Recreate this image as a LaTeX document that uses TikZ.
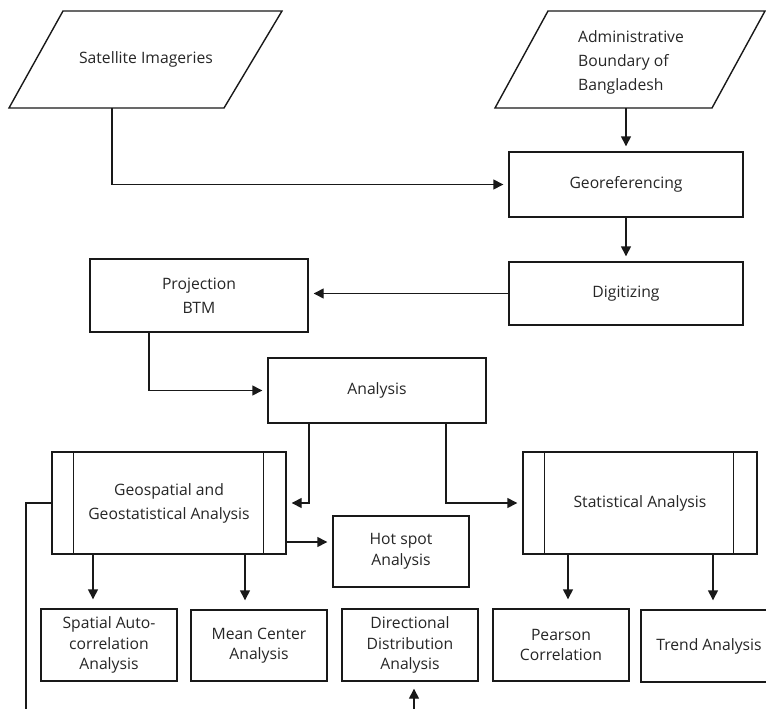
\documentclass[tikz,border=0pt]{standalone}
\usepackage{fontspec}
\setmainfont{Open Sans}
\usetikzlibrary{arrows.meta,calc}
\begin{document}
\begin{tikzpicture}[x=1pt,y=-1pt,
  ln/.style={draw=black!90,line width=1.4pt},
  blk/.style={ln,fill=white,inner sep=0pt,align=center,text=black!85,font=\fontsize{15.7}{24}\selectfont},
  sm/.style={font=\fontsize{15.7}{20.5}\selectfont},
  txt/.style={inner sep=0pt,align=center,text=black!85,font=\fontsize{15.7}{24}\selectfont},
  arr/.style={ln,-{Triangle[length=10pt,width=10pt]},shorten >=5pt},
  arrl/.style={arr,shorten >=9pt}]
\useasboundingbox (0,0) rectangle (766,709);
\clip (0,0) rectangle (766,709);
% input parallelograms
\draw[ln] (63,11) -- (282,11) -- (224,108) -- (9,108) -- cycle;
\node[txt] (sat) at (146,59) {Satellite Imageries};
\coordinate (satb) at (112,108);
\draw[ln] (548,11) -- (765,11) -- (712,108) -- (495,108) -- cycle;
\node[txt,align=left] (adm) at (631,62.5) {Administrative\\Boundary of\\Bangladesh};
\coordinate (admb) at (626,108);
% process boxes
\node[blk,minimum width=234pt,minimum height=65pt] (geo) at (626,184.5) {Georeferencing};
\node[blk,minimum width=234pt,minimum height=63pt] (dig) at (626,293.5) {Digitizing};
\node[blk,minimum width=218pt,minimum height=73pt] (proj) at (199,295.5) {Projection\\BTM};
\node[blk,minimum width=218pt,minimum height=65pt] (ana) at (377,390.5) {Analysis};
\node[blk,minimum width=234pt,minimum height=102pt] (gsp) at (169,503) {Geospatial and\\Geostatistical Analysis};
\node[blk,minimum width=234pt,minimum height=102pt] (stat) at (640,503) {Statistical Analysis};
\draw[ln] ($(gsp.north west)+(22,0)$) -- ($(gsp.south west)+(22,0)$);
\draw[ln] ($(gsp.north east)+(-23,0)$) -- ($(gsp.south east)+(-23,0)$);
\draw[ln] ($(stat.north west)+(22,0)$) -- ($(stat.south west)+(22,0)$);
\draw[ln] ($(stat.north east)+(-24,0)$) -- ($(stat.south east)+(-24,0)$);
\node[blk,sm,minimum width=136pt,minimum height=71pt] (hot) at (401,551.5) {Hot spot\\Analysis};
\node[blk,sm,minimum width=136pt,minimum height=72pt] (spa) at (109,645) {Spatial Auto-\\correlation\\Analysis};
\node[blk,sm,minimum width=136pt,minimum height=71pt] (mean) at (259,645.5) {Mean Center\\Analysis};
\node[blk,sm,minimum width=136pt,minimum height=72pt] (dir) at (410,645) {Directional\\Distribution\\Analysis};
\node[blk,sm,minimum width=136pt,minimum height=72pt] (pear) at (561,645) {Pearson\\Correlation};
\node[blk,sm,minimum width=136pt,minimum height=72pt] (trend) at (709,646) {Trend Analysis};
% helper coordinates
\coordinate (p1) at (149,0);
\coordinate (a1) at (309,0);
\coordinate (a2) at (446,0);
\coordinate (h1) at (0,542);
\coordinate (s1) at (93,0);
\coordinate (m1) at (245,0);
\coordinate (t1) at (568,0);
\coordinate (t2) at (713,0);
\coordinate (lo) at (26,709);
\coordinate (di) at (414,709);
% connectors
\draw[arr] (satb) |- (geo.west);
\draw[arr] (admb) -- (geo.north);
\draw[arr] (geo.south) -- (dig.north);
\draw[arr] (dig.west) -- (dig.west -| proj.east);
\draw[arr] (proj.south -| p1) |- (ana.west);
\draw[arr] (ana.south -| a1) |- (gsp.east);
\draw[arr] (ana.south -| a2) |- (stat.west);
\draw[arr] (gsp.east |- h1) -- (hot.west |- h1);
\draw[arrl] (gsp.south -| s1) -- (spa.north -| s1);
\draw[arrl] (gsp.south -| m1) -- (mean.north -| m1);
\draw[arrl] (stat.south -| t1) -- (pear.north -| t1);
\draw[arrl] (stat.south -| t2) -- (trend.north -| t2);
\draw[ln] (gsp.west) -| (lo);
\draw[arr,shorten >=7pt] (di) -- (di |- dir.south);
\end{tikzpicture}
\end{document}
